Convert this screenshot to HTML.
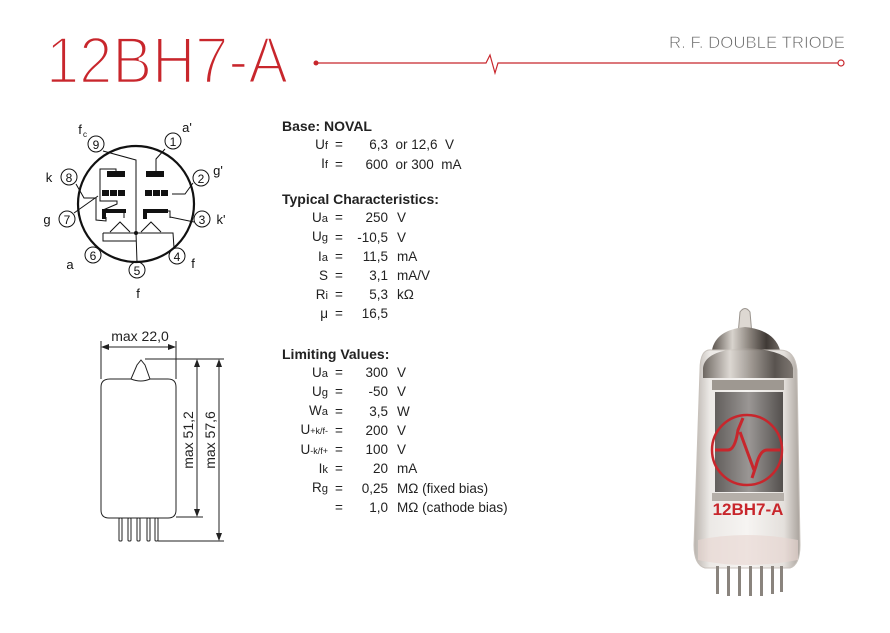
<!DOCTYPE html>
<html><head><meta charset="utf-8"><style>
body{margin:0;background:#fff;width:890px;height:633px;overflow:hidden;font-family:"Liberation Sans",sans-serif}
svg{position:absolute;left:0;top:0}
</style></head><body>
<svg width="890" height="633" viewBox="0 0 890 633" xmlns="http://www.w3.org/2000/svg">
<defs>
<linearGradient id="glass" x1="0" x2="1"><stop offset="0" stop-color="#b9b3ad"/><stop offset=".15" stop-color="#ece9e6"/><stop offset=".5" stop-color="#f6f4f2"/><stop offset=".85" stop-color="#e4e0dc"/><stop offset="1" stop-color="#a9a29c"/></linearGradient>
<linearGradient id="metal" x1="0" x2="1"><stop offset="0" stop-color="#5a534d"/><stop offset=".3" stop-color="#d8d3cd"/><stop offset=".55" stop-color="#8b847d"/><stop offset=".8" stop-color="#3f3935"/><stop offset="1" stop-color="#6f6862"/></linearGradient>
<linearGradient id="plate" x1="0" x2="1"><stop offset="0" stop-color="#4a4644"/><stop offset=".5" stop-color="#8a8684"/><stop offset="1" stop-color="#3a3634"/></linearGradient>
</defs>
<!-- header -->
<text x="46" y="83" font-size="66" fill="#c8262c" stroke="#fff" stroke-width="2.6" font-family="Liberation Sans Narrow, Liberation Sans, sans-serif" textLength="242" lengthAdjust="spacingAndGlyphs">12BH7-A</text>
<text x="845" y="48" font-size="17" fill="#666" stroke="#fff" stroke-width="0.6" text-anchor="end" textLength="176" lengthAdjust="spacingAndGlyphs">R. F. DOUBLE TRIODE</text>
<polyline points="316,63 486,63 490,55 495,73 498,63 838,63" fill="none" stroke="#c8262c" stroke-width="1.2"/>
<circle cx="316" cy="63" r="2.5" fill="#c8262c"/>
<circle cx="841" cy="63" r="3" fill="#fff" stroke="#c8262c" stroke-width="1.2"/>
<!-- pin diagram -->
<g fill="none" stroke="#111" stroke-width="1.2" font-size="14">
<circle cx="136" cy="204" r="58" stroke-width="2.2"/>
<g stroke-width="1">
<circle cx="96" cy="144" r="8"/><circle cx="173" cy="141" r="8"/><circle cx="201" cy="178" r="8"/><circle cx="202" cy="219" r="8"/><circle cx="177" cy="256" r="8"/><circle cx="137" cy="270" r="8"/><circle cx="93" cy="255" r="8"/><circle cx="67" cy="219" r="8"/><circle cx="69" cy="177" r="8"/>
<polyline points="103,151 136,160 136,233"/>
<polyline points="165,149 156,159 156,171"/>
<polyline points="193,183 185,194 172,194"/>
<polyline points="194,222 170,217 170,213"/>
<polyline points="103,210 117,204 117,201 100,201 100,169 116,169 116,174"/>
<polyline points="76,184 84,198 96,198 96,220 106,221 106,217"/>
<polyline points="74,213 98,196"/>
<polyline points="103,233 136,233 137,262"/>
<polyline points="103,233 103,241 136,241"/>
<polyline points="136,233 173,233 174,248"/>
<polyline points="110,232 120,222 130,232"/>
<polyline points="141,232 151,222 161,232"/>
<polyline points="105,218 105,211 124,211 124,218"/>
<polyline points="144,218 144,211 170,211 170,218"/>
</g>
<g fill="#111" stroke="none">
<rect x="107" y="171" width="18" height="6"/><rect x="146" y="171" width="18" height="6"/>
<rect x="102" y="190" width="7" height="6"/><rect x="110" y="190" width="7" height="6"/><rect x="118" y="190" width="7" height="6"/>
<rect x="145" y="190" width="7" height="6"/><rect x="153" y="190" width="7" height="6"/><rect x="161" y="190" width="7" height="6"/>
<rect x="102" y="209" width="24" height="4"/><rect x="143" y="209" width="25" height="4"/>
<rect x="102" y="209" width="4" height="10"/><rect x="143" y="209" width="4" height="10"/>
<circle cx="136" cy="233" r="2"/>
</g>
<g fill="#111" stroke="none" font-size="12" text-anchor="middle">
<text x="96" y="149">9</text><text x="173" y="146">1</text><text x="201" y="183">2</text><text x="202" y="224">3</text><text x="177" y="261">4</text><text x="137" y="275">5</text><text x="93" y="260">6</text><text x="67" y="224">7</text><text x="69" y="182">8</text>
<text x="80" y="134" font-size="13">f</text><text x="85" y="137" font-size="8">c</text>
<text x="187" y="132" font-size="13">a'</text><text x="218" y="175" font-size="13">g'</text><text x="221" y="224" font-size="13">k'</text><text x="193" y="268" font-size="13">f</text><text x="138" y="298" font-size="13">f</text><text x="70" y="269" font-size="13">a</text><text x="47" y="224" font-size="13">g</text><text x="49" y="182" font-size="13">k</text>
</g>
</g>
<!-- dimension drawing -->
<g fill="none" stroke="#222" stroke-width="1">
<path d="M110,379 L131,379 L137,365 L141,360 L145,365 L150,379 L168,379 Q176,379 176,387 L176,510 Q176,518 168,518 L109,518 Q101,518 101,510 L101,387 Q101,379 110,379 Z"/>
<path d="M131,379 Q141,383 150,379"/>
<rect x="119" y="518" width="3" height="23" rx="1"/><rect x="128" y="518" width="3" height="23" rx="1"/><rect x="137" y="518" width="3" height="23" rx="1"/><rect x="147" y="518" width="3" height="23" rx="1"/><rect x="155" y="518" width="3" height="23" rx="1"/>
<line x1="101" y1="341" x2="101" y2="379"/><line x1="176" y1="341" x2="176" y2="379"/>
<line x1="103" y1="347" x2="174" y2="347"/>
<line x1="145" y1="359" x2="224" y2="359"/>
<line x1="176" y1="517" x2="203" y2="517"/>
<line x1="158" y1="541" x2="224" y2="541"/>
<line x1="197" y1="362" x2="197" y2="514"/>
<line x1="219" y1="362" x2="219" y2="538"/>
</g>
<g fill="#222">
<path d="M101,347 l8,-3 v6z M176,347 l-8,-3 v6z M197,359 l-3,8 h6z M197,517 l-3,-8 h6z M219,359 l-3,8 h6z M219,541 l-3,-8 h6z"/>
<text x="140" y="341" font-size="14" text-anchor="middle">max 22,0</text>
<text transform="translate(193,440) rotate(-90)" font-size="14" text-anchor="middle">max 51,2</text>
<text transform="translate(215,440) rotate(-90)" font-size="14" text-anchor="middle">max 57,6</text>
</g>
<!-- tube photo -->
<g>
<path d="M740,312 Q745,305 750,312 L752,335 L738,335 Z" fill="#ddd8d2" stroke="#9a948e"/>
<path d="M712,350 Q716,330 745,327 Q774,330 780,350 Z" fill="url(#metal)"/>
<path d="M700,370 Q700,348 712,350 L780,350 Q795,350 797,370 L800,545 Q800,565 790,568 L705,568 Q694,565 694,545 Z" fill="url(#glass)" stroke="#c8c2bc"/>
<path d="M703,368 Q705,350 745,348 Q790,350 793,368 L793,378 L703,378 Z" fill="url(#metal)" opacity=".85"/>
<rect x="715" y="392" width="68" height="100" fill="url(#plate)" opacity=".85"/>
<rect x="712" y="380" width="72" height="10" fill="#9e9891"/>
<rect x="712" y="493" width="72" height="8" fill="#b5afa9"/>
<circle cx="747" cy="450" r="35" fill="none" stroke="#c8262c" stroke-width="2.5"/>
<path d="M715,450 H728 Q735,450 738,430 L743,418 M752,478 L756,466 Q760,450 767,450 H780 M740,432 L754,470" fill="none" stroke="#c8262c" stroke-width="3"/>
<text x="748" y="515" font-size="17" font-weight="bold" fill="#c8262c" text-anchor="middle">12BH7-A</text>
<path d="M698,540 Q745,530 798,540 L798,560 Q745,570 698,560 Z" fill="#e8d5d0" opacity=".6"/>
<g fill="#8a847e"><rect x="716" y="566" width="3" height="28"/><rect x="727" y="566" width="3" height="30"/><rect x="738" y="566" width="3" height="30"/><rect x="749" y="566" width="3" height="30"/><rect x="760" y="566" width="3" height="30"/><rect x="771" y="566" width="3" height="28"/><rect x="780" y="566" width="3" height="26"/></g>
</g>
</svg>
<div style="position:absolute;left:282px;top:117px;font-size:13.5px;color:#222;line-height:18.5px">
<div style="font-weight:bold;font-size:14px">Base: NOVAL</div>
<table style="border-collapse:collapse;font-size:13.5px;line-height:18.5px" cellpadding="0">
<tr><td style="width:46px;text-align:right">U<small>f</small></td><td style="width:22px;text-align:center">=</td><td style="width:38px;text-align:right">6,3</td><td>&nbsp;&nbsp;or 12,6&nbsp; V</td></tr>
<tr><td style="text-align:right">I<small>f</small></td><td style="text-align:center">=</td><td style="text-align:right">600</td><td>&nbsp;&nbsp;or 300&nbsp; mA</td></tr>
</table>
</div>
<div style="position:absolute;left:282px;top:190px;color:#222">
<div style="font-weight:bold;font-size:14px;line-height:18.5px">Typical Characteristics:</div>
<table style="border-collapse:collapse;font-size:13.5px;line-height:18.5px" cellpadding="0">
<tr><td style="width:46px;text-align:right">U<small>a</small></td><td style="width:22px;text-align:center">=</td><td style="width:38px;text-align:right">250</td><td style="padding-left:9px">V</td></tr>
<tr><td style="text-align:right">U<small>g</small></td><td style="text-align:center">=</td><td style="text-align:right">-10,5</td><td style="padding-left:9px">V</td></tr>
<tr><td style="text-align:right">I<small>a</small></td><td style="text-align:center">=</td><td style="text-align:right">11,5</td><td style="padding-left:9px">mA</td></tr>
<tr><td style="text-align:right">S</td><td style="text-align:center">=</td><td style="text-align:right">3,1</td><td style="padding-left:9px">mA/V</td></tr>
<tr><td style="text-align:right">R<small>i</small></td><td style="text-align:center">=</td><td style="text-align:right">5,3</td><td style="padding-left:9px">kΩ</td></tr>
<tr><td style="text-align:right">μ</td><td style="text-align:center">=</td><td style="text-align:right">16,5</td><td></td></tr>
</table>
</div>
<div style="position:absolute;left:282px;top:345px;color:#222">
<div style="font-weight:bold;font-size:14px;line-height:18.5px">Limiting Values:</div>
<table style="border-collapse:collapse;font-size:13.5px;line-height:18.3px" cellpadding="0">
<tr><td style="width:46px;text-align:right">U<small>a</small></td><td style="width:22px;text-align:center">=</td><td style="width:38px;text-align:right">300</td><td style="padding-left:9px">V</td></tr>
<tr><td style="text-align:right">U<small>g</small></td><td style="text-align:center">=</td><td style="text-align:right">-50</td><td style="padding-left:9px">V</td></tr>
<tr><td style="text-align:right">W<small>a</small></td><td style="text-align:center">=</td><td style="text-align:right">3,5</td><td style="padding-left:9px">W</td></tr>
<tr><td style="text-align:right">U<small style="font-size:9px">+k/f-</small></td><td style="text-align:center">=</td><td style="text-align:right">200</td><td style="padding-left:9px">V</td></tr>
<tr><td style="text-align:right">U<small style="font-size:9px">-k/f+</small></td><td style="text-align:center">=</td><td style="text-align:right">100</td><td style="padding-left:9px">V</td></tr>
<tr><td style="text-align:right">I<small>k</small></td><td style="text-align:center">=</td><td style="text-align:right">20</td><td style="padding-left:9px">mA</td></tr>
<tr><td style="text-align:right">R<small>g</small></td><td style="text-align:center">=</td><td style="text-align:right">0,25</td><td style="padding-left:9px">MΩ (fixed bias)</td></tr>
<tr><td></td><td style="text-align:center">=</td><td style="text-align:right">1,0</td><td style="padding-left:9px">MΩ (cathode bias)</td></tr>
</table>
</div>
</body></html>
